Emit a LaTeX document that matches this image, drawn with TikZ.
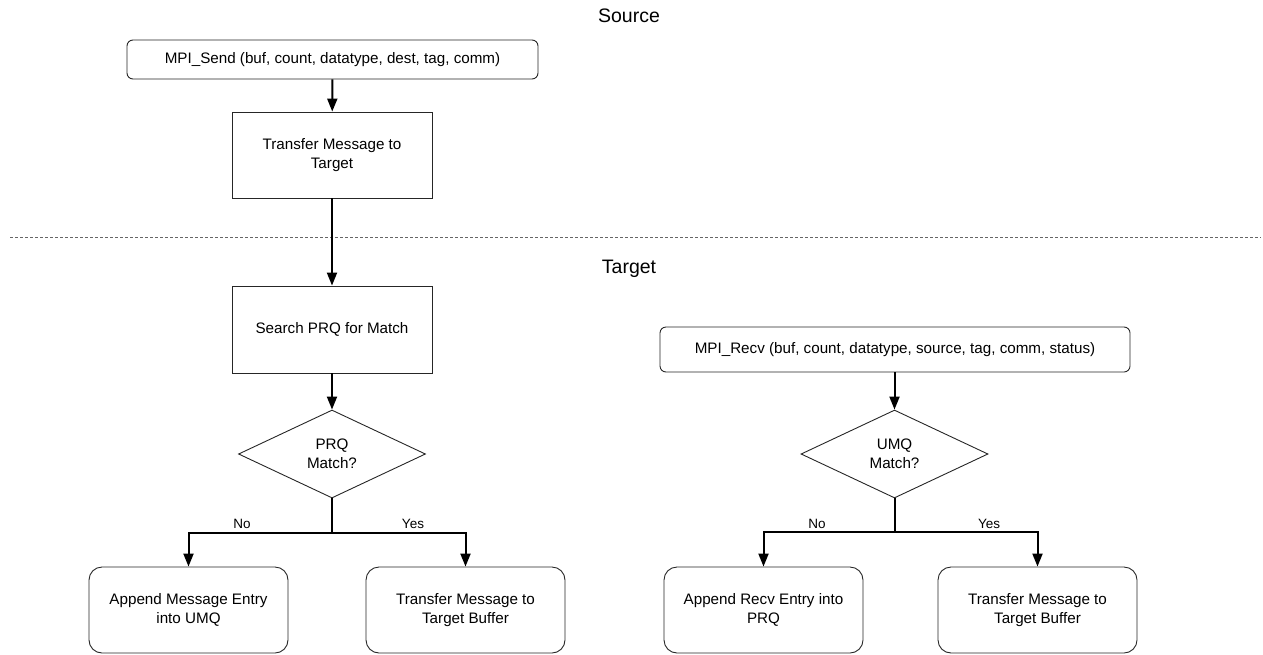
\documentclass[tikz,border=0pt]{standalone}
\usepackage{fontspec}
\setmainfont{Liberation Sans}
\usetikzlibrary{arrows.meta,shapes.geometric}
\tikzset{
  base/.style={draw=black!85, line width=0.9pt, inner sep=0pt, align=center, font=\fontsize{15.2}{19}\selectfont},
  rboxsmall/.style={base, rounded corners=6pt},
  rboxbig/.style={base, rounded corners=13pt, minimum width=199pt, minimum height=86pt},
  sqbox/.style={base, minimum width=200pt},
  decision/.style={base, shape=diamond, aspect=2.1, minimum width=187pt, minimum height=88pt},
  arr/.style={draw=black, line width=2pt, -{Triangle[width=10pt,length=13pt]}},
  title/.style={font=\fontsize{19.5}{22}\selectfont},
  lab/.style={font=\fontsize{13.5}{16}\selectfont},
}
\begin{document}
\begin{tikzpicture}[x=1pt,y=-1pt]
\useasboundingbox (0,0) rectangle (1263,654);
% titles and separator
\node[title] (src) at (629,16) {Source};
\node[title] (tgt) at (629,269) {Target};
\coordinate (dl) at (10,237);
\coordinate (dr) at (1261,237);
\draw[black!60, line width=0.8pt, dash pattern=on 3pt off 2pt] (dl) -- (dr);
% left column
\node[rboxsmall, minimum width=411pt, minimum height=39pt] (send) at (332.5,59.5) {MPI\_Send (buf, count, datatype, dest, tag, comm)};
\node[sqbox, minimum height=86pt] (xfer) at (332,155) {Transfer Message to\\Target};
\node[sqbox, minimum height=87pt] (search) at (332,329.5) {Search PRQ for Match};
\node[decision] (prq) at (332,454) {PRQ\\Match?};
\node[rboxbig] (appA) at (188.5,610) {Append Message Entry\\into UMQ};
\node[rboxbig] (bufA) at (465.5,610) {Transfer Message to\\Target Buffer};
\coordinate (jA) at (332,533);
\draw[arr] (send) -- (xfer);
\draw[arr] (xfer) -- (search);
\draw[arr] (search) -- (prq);
\draw[arr] (prq.south) -- (jA) -| (appA.north);
\draw[arr] (prq.south) -- (jA) -| (bufA.north);
\node[lab] (noA) at (242,524) {No};
\node[lab] (yesA) at (413,524) {Yes};
% right column
\node[rboxsmall, minimum width=470pt, minimum height=45pt] (recv) at (895,349.5) {MPI\_Recv (buf, count, datatype, source, tag, comm, status)};
\node[decision] (umq) at (894.5,454) {UMQ\\Match?};
\node[rboxbig] (appB) at (763.5,610) {Append Recv Entry into\\PRQ};
\node[rboxbig] (bufB) at (1037.5,610) {Transfer Message to\\Target Buffer};
\coordinate (jB) at (894.5,532);
\draw[arr] (recv.south -| umq.north) -- (umq);
\draw[arr] (umq.south) -- (jB) -| (appB.north);
\draw[arr] (umq.south) -- (jB) -| (bufB.north);
\node[lab] (noB) at (817,524) {No};
\node[lab] (yesB) at (989,524) {Yes};
\end{tikzpicture}
\end{document}
